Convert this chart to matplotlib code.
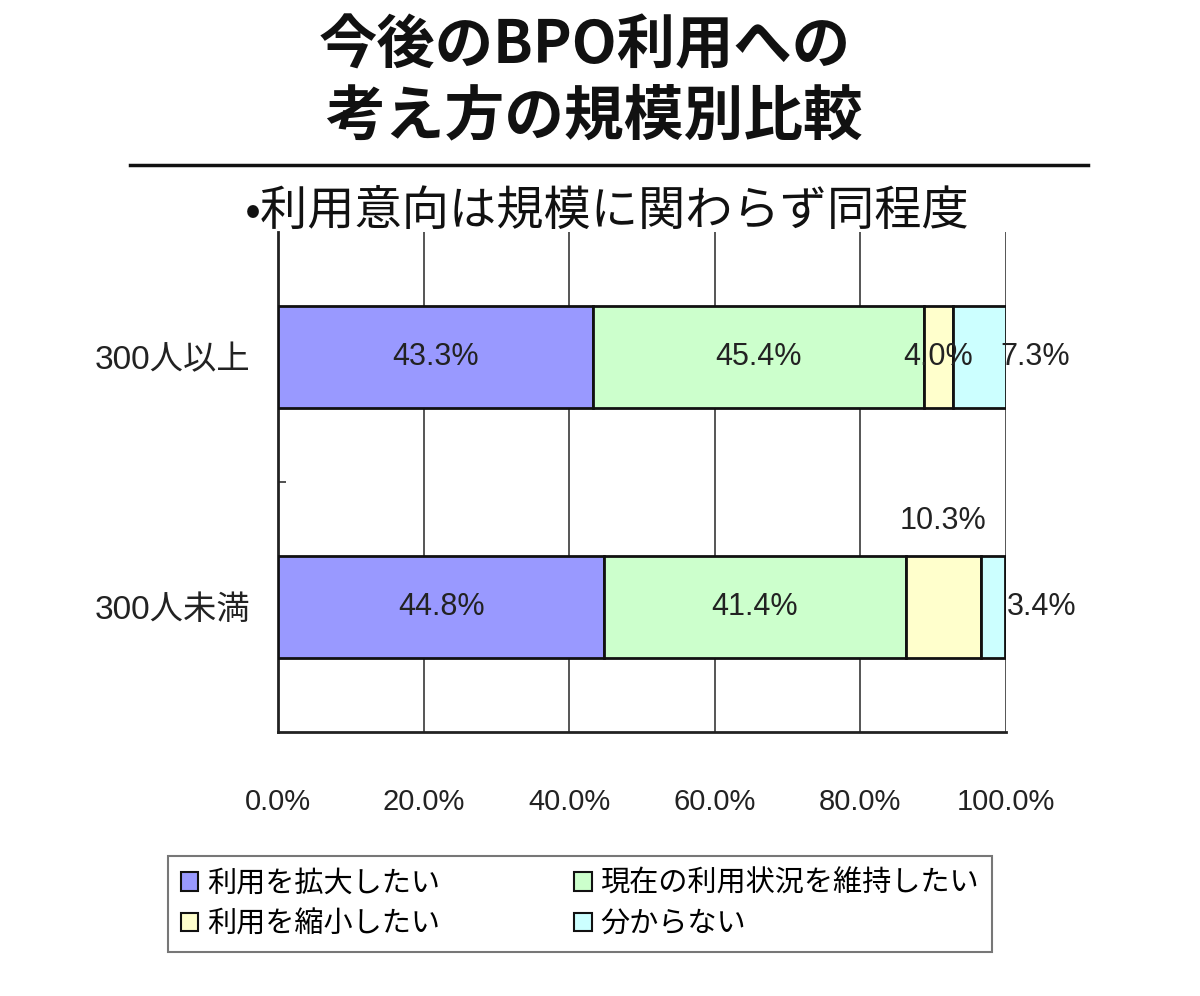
import numpy as np
import matplotlib.pyplot as plt
from matplotlib.lines import Line2D
from matplotlib.patches import Patch

plt.rcParams['font.family'] = ['Noto Sans CJK JP', 'DejaVu Sans']
NUM_FONT = ['Liberation Sans', 'Noto Sans CJK JP']

# data
categories = ['300人以上', '300人未満']
series_names = ['利用を拡大したい', '現在の利用状況を維持したい', '利用を縮小したい', '分からない']
expand = [43.3, 44.8]
keep = [45.4, 41.4]
shrink = [4.0, 10.3]
unknown = [7.3, 3.4]
x_ticks = [0, 20, 40, 60, 80, 100]

colors = ['#9999FF', '#CCFFCC', '#FFFFCC', '#CCFFFF']
series = [expand, keep, shrink, unknown]

fig = plt.figure(figsize=(12, 9.96), dpi=100)
ax = fig.add_axes([278 / 1200, 1 - 732 / 996, 728 / 1200, 500 / 996])

y = np.arange(len(categories))
left = np.zeros(len(categories))
for vals, c in zip(series, colors):
    ax.barh(y, vals, left=left, height=0.405, color=c, edgecolor='#111111',
            linewidth=2, zorder=3)
    left = left + np.array(vals)

# data labels
for i in range(len(categories)):
    lft = 0
    for k, vals in enumerate(series):
        v = vals[i]
        cx = lft + v / 2
        txt = f'{v:.1f}%'
        kw = dict(ha='center', va='center', fontsize=22, family=NUM_FONT,
                  color='#222222', zorder=5, clip_on=False)
        if k < 2 or (k == 2 and v < 6):
            ax.text(cx, y[i], txt, **kw)
        elif k == 2:
            ax.text(cx, y[i] - 0.345, txt, **kw)
        else:
            ax.text(lft + v + 4 + (1 if v < 5 else 0), y[i], txt, **kw)
        lft += v

ax.set_xlim(0, 100)
ax.set_ylim(1.5, -0.5)
ax.set_xticks(x_ticks)
ax.set_xticklabels([f'{t:.1f}%' for t in x_ticks], fontsize=21, family=NUM_FONT, color='#222222')
ax.set_yticks(y)
ax.set_yticklabels(categories, fontsize=24, family=NUM_FONT, color='#222222')
ax.tick_params(axis='x', length=0, pad=40)
ax.tick_params(axis='y', length=0, pad=20)
ax.set_yticks([0.5], minor=True)
ax.tick_params(axis='y', which='minor', direction='in', length=6, width=1.2, color='#333333')

ax.grid(axis='x', color='#555555', linewidth=1.4, zorder=1)
for s in ['top', 'right']:
    ax.spines[s].set_visible(False)
for s in ['left', 'bottom']:
    ax.spines[s].set_linewidth(2)
    ax.spines[s].set_color('#222222')

# title and rule
fig.text(0.4875, 1 - 46 / 996, '今後のBPO利用への', ha='center', va='center', fontsize=42,
         fontweight='bold', color='#111111')
fig.text(0.495, 1 - 117 / 996, '考え方の規模別比較', ha='center', va='center', fontsize=43,
         fontweight='bold', color='#111111')
fig.add_artist(Line2D([130 / 1200, 1088 / 1200], [1 - 165 / 996, 1 - 165 / 996],
                      color='#111111', linewidth=2.5))
fig.text(0.506, 1 - 212 / 996, '•利用意向は規模に関わらず同程度', ha='center', va='center',
         fontsize=34, color='#111111')

# legend
order = [0, 2, 1, 3]
handles = [Patch(facecolor=colors[i], edgecolor='#111111', linewidth=1.5) for i in order]
labels = [series_names[i] for i in order]
leg = fig.legend(handles, labels, ncol=2, loc='center',
                 bbox_to_anchor=(580 / 1200, 1 - 904 / 996), fontsize=21,
                 handlelength=0.6, handleheight=0.6, handletextpad=0.3,
                 columnspacing=4.6, labelspacing=0.35, frameon=True, fancybox=False,
                 borderpad=0.45, borderaxespad=0)
leg.get_frame().set_edgecolor('#555555')
leg.get_frame().set_linewidth(1.5)

fig.savefig('out.png', dpi=100, facecolor='white')
